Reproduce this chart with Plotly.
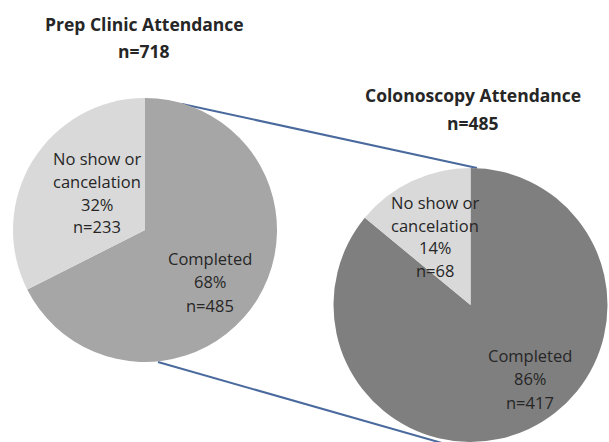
import plotly.graph_objects as go

W, H = 609, 442

# Attendance counts
categories = ["Completed", "No show or cancelation"]
prep_counts = [485, 233]          # Prep clinic, n=718
colo_counts = [417, 68]           # Colonoscopy, n=485

prep_colors = ["#a6a6a6", "#d9d9d9"]
colo_colors = ["#7f7f7f", "#d9d9d9"]

FONT = "Open Sans"
TXT = "#262626"


def px_x(x):
    return x / W


def px_y(y):
    return 1 - y / H


def label_lines(name, count, total):
    pct = round(100 * count / total)
    lines = ["No show or", "cancelation"] if name.startswith("No show") else [name]
    return lines + [f"{pct}%", f"n={count}"]


prep_total = sum(prep_counts)
colo_total = sum(colo_counts)

fig = go.Figure()

fig.add_trace(go.Pie(
    labels=categories, values=prep_counts, sort=False, direction="clockwise",
    rotation=0, marker=dict(colors=prep_colors, line=dict(width=0)),
    textinfo="none", hoverinfo="label+value+percent", showlegend=False,
    domain=dict(x=[px_x(13), px_x(277)], y=[px_y(362), px_y(98)]),
))

fig.add_trace(go.Pie(
    labels=categories, values=colo_counts, sort=False, direction="clockwise",
    rotation=0, marker=dict(colors=colo_colors, line=dict(width=0)),
    textinfo="none", hoverinfo="label+value+percent", showlegend=False,
    domain=dict(x=[px_x(333.5), px_x(607.5)], y=[px_y(442), px_y(168)]),
))

# Connector lines linking the completed slice to the second pie
line_style = dict(color="#4a6a9e", width=2)
fig.add_shape(type="line", xref="paper", yref="paper", layer="below",
              x0=px_x(182), y0=px_y(104), x1=px_x(477), y1=px_y(168),
              line=line_style)
fig.add_shape(type="line", xref="paper", yref="paper", layer="below",
              x0=px_x(158), y0=px_y(362), x1=px_x(470), y1=px_y(451),
              line=line_style)

annotations = []


def add_block(lines, cx, first_y, step, size, bold=False):
    for i, t in enumerate(lines):
        annotations.append(dict(
            x=px_x(cx), y=px_y(first_y + i * step),
            text=f"<b>{t}</b>" if bold else t,
            xref="paper", yref="paper", showarrow=False,
            xanchor="center", yanchor="middle",
            font=dict(family=FONT, size=size, color=TXT),
        ))


# titles
add_block(["Prep Clinic Attendance", f"n={prep_total}"], 144, 24, 27, 17.5, bold=True)
add_block(["Colonoscopy Attendance", f"n={colo_total}"], 473, 95, 28, 17.5, bold=True)
# slice labels
add_block(label_lines(categories[1], prep_counts[1], prep_total), 97, 158, 23, 16.5)
add_block(label_lines(categories[0], prep_counts[0], prep_total), 210, 258, 23.5, 16.5)
add_block(label_lines(categories[1], colo_counts[1], colo_total), 435, 203, 22.4, 16.5)
add_block(label_lines(categories[0], colo_counts[0], colo_total), 530, 355, 23.5, 16.5)

fig.update_layout(
    width=W, height=H, margin=dict(l=0, r=0, t=0, b=0),
    paper_bgcolor="white", plot_bgcolor="white",
    annotations=annotations,
    font=dict(family=FONT, color=TXT),
)

fig.write_html("out.html")
